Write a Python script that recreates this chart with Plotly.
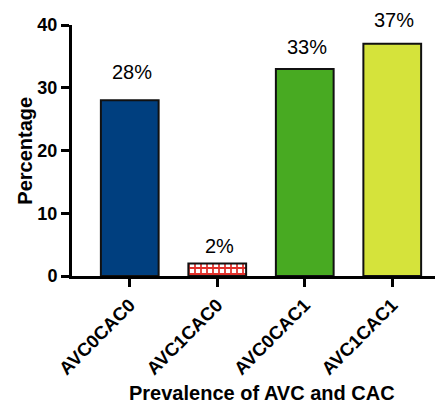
import plotly.graph_objects as go

categories = ["AVC0CAC0", "AVC1CAC0", "AVC0CAC1", "AVC1CAC1"]
values = [28, 2, 33, 37]
labels = ["28%", "2%", "33%", "37%"]
colors = ["#003f7f", "#e0302a", "#48aa22", "#d5e33b"]
pattern_shapes = ["", "+", "", ""]
label_shifts = [15, 4, 9, 11]
x_title = "Prevalence of AVC and CAC"
y_title = "Percentage"
y_ticks = [0, 10, 20, 30, 40]

FONT = "Liberation Sans, Arial, sans-serif"

fig = go.Figure()
fig.add_trace(go.Bar(
    x=categories, y=values,
    width=0.66,
    marker=dict(
        color=colors,
        line=dict(color="#111111", width=2),
        pattern=dict(shape=pattern_shapes, fgcolor="#e8652c", bgcolor="#dc2e24",
                     size=6, solidity=0.5, fillmode="replace"),
    ),
    showlegend=False,
))

for c, v, t, s in zip(categories, values, labels, label_shifts):
    fig.add_annotation(x=c, y=v, text=t, showarrow=False, yanchor="bottom", xshift=2,
                       yshift=s, font=dict(family=FONT, size=20, color="black"))

fig.add_annotation(xref="paper", yref="paper", x=0.512, y=-0.466, text="<b>" + x_title + "</b>",
                   showarrow=False, xanchor="center", yanchor="middle",
                   font=dict(family=FONT, size=20, color="black"))
fig.add_annotation(xref="paper", yref="paper", x=-0.129, y=0.5, text="<b>" + y_title + "</b>",
                   showarrow=False, xanchor="center", yanchor="middle", textangle=-90,
                   font=dict(family=FONT, size=20, color="black"))

# page body has an 8px default margin, so the figure is shrunk by 8px
fig.update_layout(
    width=435, height=397,
    margin=dict(l=64, r=0, t=17, b=129),
    paper_bgcolor="white", plot_bgcolor="white",
    font=dict(family=FONT, color="black"),
)
fig.update_xaxes(
    range=[-0.66, 3.58], automargin=False,
    showline=True, linecolor="black", linewidth=3,
    ticks="outside", ticklen=8, tickwidth=3, tickcolor="black",
    tickangle=-45,
    tickfont=dict(family=FONT, size=18.5, color="black", weight="bold"),
    showgrid=False,
)
fig.update_yaxes(
    range=[0, 40], tickvals=y_ticks, automargin=False,
    showline=True, linecolor="black", linewidth=3,
    ticks="outside", ticklen=8, tickwidth=3, tickcolor="black",
    tickfont=dict(family=FONT, size=18, color="black", weight="bold"),
    showgrid=False, zeroline=False,
)

fig.write_html("out.html")
